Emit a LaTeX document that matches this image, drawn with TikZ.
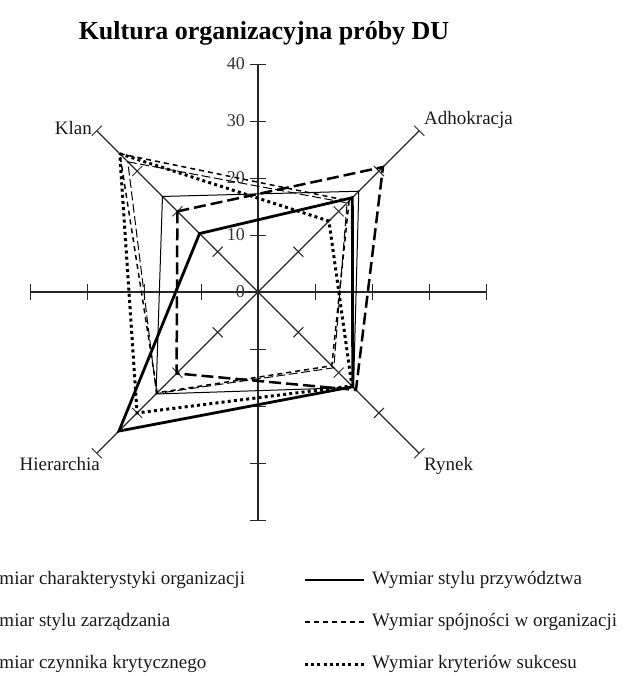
\documentclass[tikz,border=0pt]{standalone}
\usepackage{fontspec}
\setmainfont{Liberation Serif}
\newcommand\radarpoly[5]{\draw[#1] ({-#2*4.031},{-#2*4.031}) -- ({#3*4.031},{-#3*4.031}) -- ({#4*4.031},{#4*4.031}) -- ({-#5*4.031},{#5*4.031}) -- cycle;}
\begin{document}
\begin{tikzpicture}[x=1pt,y=-1pt,
  axisline/.style={line width=1.1pt,draw=black!85},
  tickline/.style={line width=0.9pt,draw=black!85},
  txt/.style={inner sep=0pt,font=\fontsize{19}{22}\selectfont,text=black!90},
  numtxt/.style={inner sep=0pt,font=\fontsize{18}{21}\selectfont,text=black!80},
  sercharakter/.style={line width=1pt},
  serprzyw/.style={line width=2.8pt},
  serkryt/.style={line width=2.5pt,dash pattern=on 12pt off 5pt},
  serspoj/.style={line width=1.5pt,dash pattern=on 5pt off 4pt},
  serzarz/.style={line width=1pt,dash pattern=on 9pt off 3.5pt},
  sersukc/.style={line width=3pt,dash pattern=on 3pt off 3.2pt},
  line join=miter]
\useasboundingbox (0,0) rectangle (623,676);
\clip (0,0) rectangle (623,676);
\node[inner sep=0pt,anchor=base,font=\bfseries\fontsize{26}{30}\selectfont] (title) at (264,40) {Kultura organizacyjna próby DU};
\begin{scope}[shift={(258,292)}]
  % axes
  \draw[axisline] (0,-228) -- (0,228);
  \draw[axisline] (-228,0) -- (228,0);
  \draw[axisline] (-161.2,-161.2) -- (161.2,161.2);
  \draw[axisline] (-161.2,161.2) -- (161.2,-161.2);
  \foreach \k in {1,2,3,4}{
    \draw[tickline] (-8,{\k*57}) -- (8,{\k*57});
    \draw[tickline] (-8,{-\k*57}) -- (8,{-\k*57});
    \draw[tickline] ({\k*57},-8) -- ({\k*57},8);
    \draw[tickline] ({-\k*57},-8) -- ({-\k*57},8);
    \foreach \sx/\sy in {1/1,1/-1,-1/1,-1/-1}{
      \draw[tickline] ({\sx*\k*40.31-5*\sy},{\sy*\k*40.31+5*\sx}) -- ({\sx*\k*40.31+5*\sy},{\sy*\k*40.31-5*\sx});
    }
  }
  \foreach \k/\v in {0/0,1/10,2/20,3/30,4/40}{
    \node[numtxt,anchor=east] (lab\v) at (-13,{-\k*57}) {\v};
  }
  % series
  \radarpoly{sercharakter}{23.7}{25}{23.7}{25.3}
  \radarpoly{serzarz}{32.3}{22.1}{18.8}{25.2}
  \radarpoly{serspoj}{34.3}{22.6}{18.3}{25}
  \radarpoly{serkryt}{20}{31}{24.3}{20.2}
  \radarpoly{sersukc}{34.3}{17.6}{23.3}{30}
  \radarpoly{serprzyw}{14.5}{23.4}{23.5}{34.5}
\end{scope}
\node[txt,anchor=east] (klan) at (92,128) {Klan};
\node[txt,anchor=west] (adh) at (424,120) {Adhokracja};
\node[txt,anchor=east] (hier) at (100,464) {Hierarchia};
\node[txt,anchor=west] (rynek) at (424,466) {Rynek};
% legend
\node[txt,anchor=west] (l1) at (-27,580) {Wymiar charakterystyki organizacji};
\node[txt,anchor=west] (l2) at (-27,622) {Wymiar stylu zarządzania};
\node[txt,anchor=west] (l3) at (-27,664) {Wymiar czynnika krytycznego};
\coordinate (r1a) at (305,580); \coordinate (r1b) at (364,580);
\coordinate (r2a) at (305,622); \coordinate (r2b) at (364,622);
\coordinate (r3a) at (305,664); \coordinate (r3b) at (364,664);
\draw[serprzyw] (r1a) -- (r1b);
\draw[serspoj] (r2a) -- (r2b);
\draw[sersukc] (r3a) -- (r3b);
\node[txt,anchor=west] (r1) at (372,580) {Wymiar stylu przywództwa};
\node[txt,anchor=west] (r2) at (372,622) {Wymiar spójności w organizacji};
\node[txt,anchor=west] (r3) at (372,664) {Wymiar kryteriów sukcesu};
\end{tikzpicture}
\end{document}
